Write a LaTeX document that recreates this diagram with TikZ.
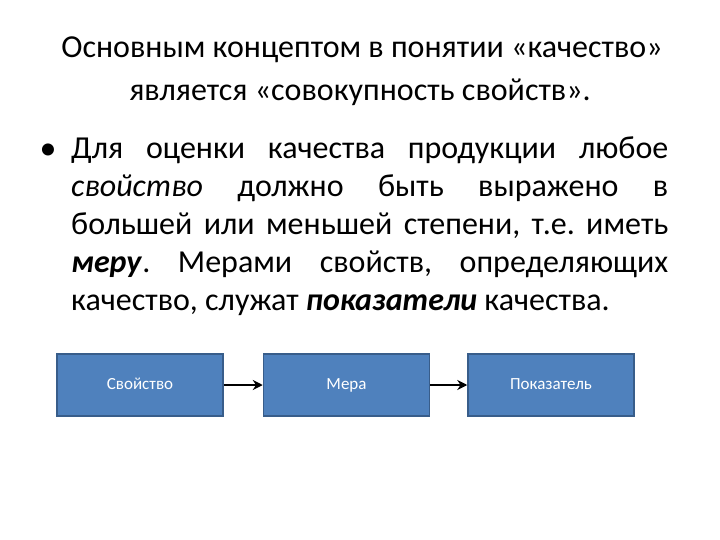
\documentclass[tikz,border=0pt]{standalone}
\usepackage{fontspec}
\setmainfont{Carlito}
\usetikzlibrary{arrows.meta}
\frenchspacing
\definecolor{boxblue}{RGB}{79,129,189}
\definecolor{boxedge}{RGB}{56,93,138}
\tikzset{
  box/.style={draw=boxedge, line width=1.5pt, fill=boxblue, minimum width=166pt, minimum height=62pt, text=white, font=\fontsize{17}{20}\selectfont, inner sep=0pt, text height=12pt, text depth=3pt},
  conn/.style={-{Stealth[length=10pt,width=10pt]}, line width=2.5pt, black},
  title/.style={font=\fontsize{32}{36}\selectfont, inner sep=0pt}
}
\begin{document}
\begin{tikzpicture}[x=1pt,y=-1pt]
\useasboundingbox (0,0) rectangle (720,540);
\node[title] (t1) at (362,50) {Основным концептом в понятии «качество»};
\node[title] (t2) at (360,92) {является «совокупность свойств».};
\node[font=\fontsize{34}{38}\selectfont] (bul) at (48,152) {•};
\node[anchor=north west, inner sep=0pt, text width=597pt, align=justify, font=\fontsize{32}{38}\selectfont\frenchspacing] (body) at (71,137)
 {Для оценки качества продукции любое \textit{свойство} должно быть выражено в большей или меньшей степени, т.е. иметь \textbf{\textit{меру}}. Мерами свойств, определяющих качество, служат \textbf{\textit{показатели}} качества.};
\node[box] (a) at (140,385) {Свойство};
\node[box] (b) at (346.5,385) {Мера};
\node[box] (c) at (551,385) {Показатель};
\draw[conn] (a) -- (b);
\draw[conn] (b) -- (c);
\end{tikzpicture}
\end{document}
